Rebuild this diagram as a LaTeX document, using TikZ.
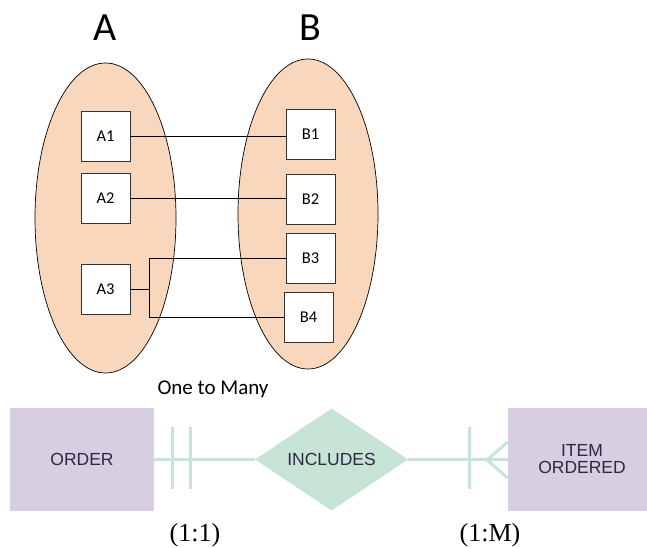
\documentclass[tikz,border=0pt]{standalone}
\usepackage{fontspec}
\setmainfont{Carlito}
\newfontfamily\erfont{Liberation Sans}
\newfontfamily\cardfont{Liberation Serif}
\usetikzlibrary{shapes.geometric}
\definecolor{peach}{HTML}{F9D7BC}
\definecolor{lavender}{HTML}{D8CEE2}
\definecolor{mint}{HTML}{C6E3D6}
\definecolor{mintline}{HTML}{C6E5D6}
\definecolor{ertext}{HTML}{2E2842}
\begin{document}
\begin{tikzpicture}[x=1pt,y=-1pt,
  setshape/.style={draw=black, line width=0.7pt, fill=peach},
  setlabel/.style={font=\fontsize{40}{44}\selectfont},
  member/.style={draw=black!80, line width=0.8pt, fill=white,
    minimum width=49pt, minimum height=50pt, inner sep=0pt,
    font=\fontsize{16.5}{18}\selectfont},
  link/.style={draw=black, line width=0.8pt},
  entity/.style={fill=lavender, inner sep=0pt, text=ertext, align=center,
    font=\erfont\fontsize{17.5}{17}\selectfont},
  relation/.style={diamond, aspect=1.5, fill=mint, inner sep=0pt,
    minimum width=153pt, minimum height=102pt, text=ertext,
    font=\erfont\fontsize{17.5}{17}\selectfont},
  erline/.style={draw=mintline, line width=3pt},
  cardinality/.style={font=\cardfont\fontsize{26}{28}\selectfont}
]
\useasboundingbox (0,0) rectangle (647,548);

% the two sets
\draw[setshape] (105.5,218) ellipse [x radius=70.5, y radius=155];
\draw[setshape] (308,214) ellipse [x radius=70, y radius=155];
\node[setlabel] (labA) at (105,28) {A};
\node[setlabel] (labB) at (310,28) {B};

% members of A
\node[member] (A1) at (105.5,136) {A1};
\node[member] (A2) at (105.5,198.5) {A2};
\node[member] (A3) at (105.5,289) {A3};

% members of B
\node[member] (B1) at (310.5,134.5) {B1};
\node[member] (B2) at (310.5,199) {B2};
\node[member] (B3) at (310.5,258) {B3};
\node[member] (B4) at (308.5,317) {B4};

% mapping
\draw[link] (A1.east) -- (A1.east -| B1.west);
\draw[link] (A2.east) -- (A2.east -| B2.west);
\coordinate (fork) at (149,289);
\draw[link] (A3.east) -- (fork);
\draw[link] (fork) |- (B3.west);
\draw[link] (fork) |- (B4.west);

\node[font=\fontsize{21}{24}\selectfont] (title) at (213,389) {One to Many};

% ER notation
\node[entity, minimum width=144pt, minimum height=103pt] (order) at (82,459.5) {ORDER};
\node[relation] (includes) at (331.5,459.5) {INCLUDES};
\node[entity, minimum width=148pt, minimum height=103pt] (item) at (582,459.5) {ITEM\\ORDERED};

\draw[erline] (order.east) -- (includes.west);
\draw[erline] (includes.east) -- (item.west |- includes.east);

% one-and-only-one bars
\draw[erline] (172,427) -- (172,489);
\draw[erline] (190,427) -- (190,489);
% one-or-many bar and crow's foot
\draw[erline] (469,427) -- (469,489);
\coordinate (crow) at (487,460);
\draw[erline] (item.west |- 0,442) -- (crow) -- (item.west |- 0,478);

\node[cardinality] (c1) at (195,535) {(1:1)};
\node[cardinality] (cM) at (490,535) {(1:M)};
\end{tikzpicture}
\end{document}
